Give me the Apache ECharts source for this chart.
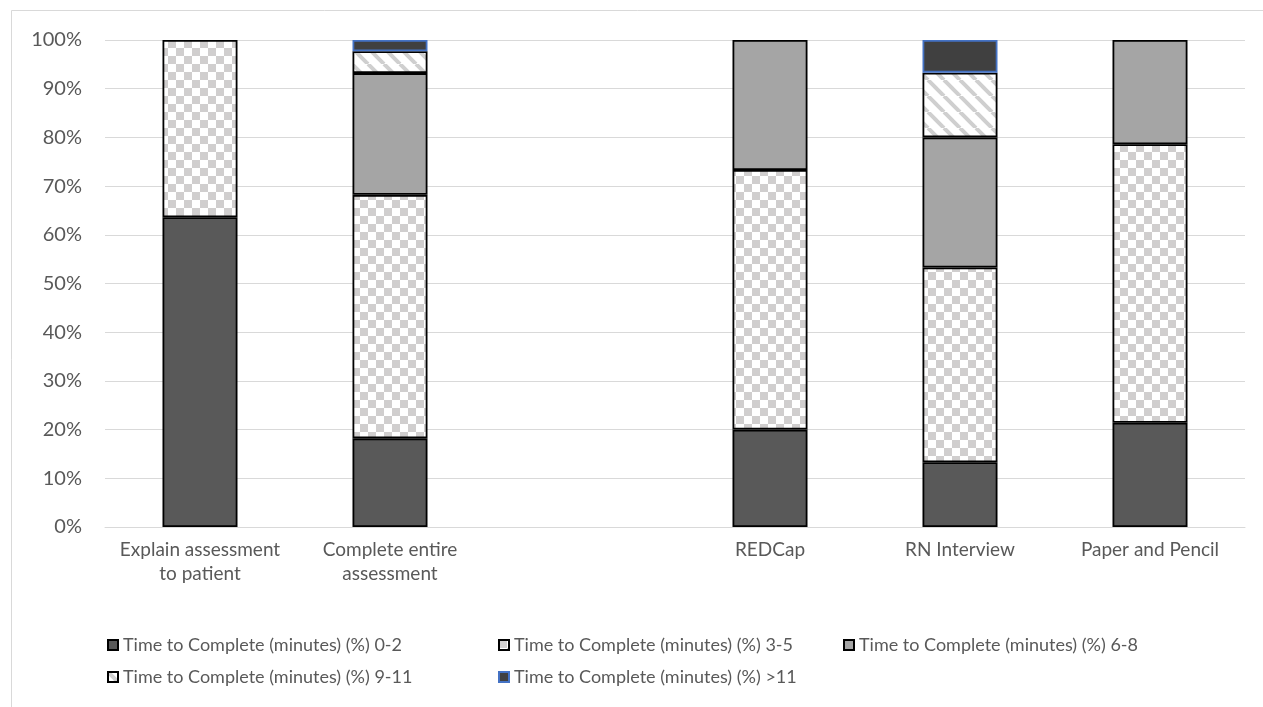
<!DOCTYPE html>
<html>
<head>
<meta charset="utf-8">
<script src="https://cdn.jsdelivr.net/npm/echarts@6/dist/echarts.min.js"></script>
<style>html,body{margin:0;padding:0;background:#fff;}#c{width:1263px;height:707px;}</style>
</head>
<body>
<div id="c"></div>
<script>
const categories = ['Explain assessment\nto patient', 'Complete entire\nassessment', '', 'REDCap', 'RN Interview', 'Paper and Pencil'];
const seriesNames = [
  'Time to Complete (minutes) (%) 0-2',
  'Time to Complete (minutes) (%) 3-5',
  'Time to Complete (minutes) (%) 6-8',
  'Time to Complete (minutes) (%) 9-11',
  'Time to Complete (minutes) (%) >11'
];
const v0_2  = [63.6, 18.2, null, 20.0, 13.3, 21.4];
const v3_5  = [36.4, 50.0, null, 53.3, 40.0, 57.2];
const v6_8  = [null, 25.0, null, 26.7, 26.7, 21.4];
const v9_11 = [null, 4.5,  null, null, 13.3, null];
const v11p  = [null, 2.3,  null, null, 6.7,  null];
const yTicks = [0, 10, 20, 30, 40, 50, 60, 70, 80, 90, 100];

function checker() {
  const c = document.createElement('canvas');
  c.width = 16; c.height = 16;
  const g = c.getContext('2d');
  g.fillStyle = '#ffffff'; g.fillRect(0, 0, 16, 16);
  g.fillStyle = '#d0cece';
  g.fillRect(0, 0, 8, 8); g.fillRect(8, 8, 8, 8);
  return c;
}
function hatch() {
  const s = 16;
  const c = document.createElement('canvas');
  c.width = s; c.height = s;
  const g = c.getContext('2d');
  g.fillStyle = '#ffffff'; g.fillRect(0, 0, s, s);
  g.strokeStyle = '#cfcfcf'; g.lineWidth = 4;
  for (const o of [-s, 0, s]) {
    g.beginPath(); g.moveTo(o, 0); g.lineTo(o + s, s); g.stroke();
  }
  return c;
}
const checkPat = { image: checker(), repeat: 'repeat' };
const hatchPat = { image: hatch(), repeat: 'repeat' };

const dataSets = [v0_2, v3_5, v6_8, v9_11, v11p];
const fills = ['#595959', checkPat, '#a5a5a5', hatchPat, '#404040'];
const borders = ['#000000', '#000000', '#000000', '#000000', '#4472c4'];

const FONT = 'Lato';
const chart = echarts.init(document.getElementById('c'), null, { renderer: 'canvas' });

const legendPos = [[102, 631], [493, 631], [838, 631], [102, 663], [493, 663]];
const legends = seriesNames.map((n, i) => ({
  data: [n],
  left: legendPos[i][0], top: legendPos[i][1],
  icon: 'rect', itemWidth: 10, itemHeight: 10, itemGap: 4,
  selectedMode: false,
  textStyle: { color: '#595959', fontSize: 18, fontFamily: FONT }
}));

chart.setOption({
  animation: false,
  backgroundColor: '#ffffff',
  graphic: [{
    type: 'rect', shape: { x: 11.5, y: 10.5, width: 1300, height: 800 },
    style: { fill: 'none', stroke: '#d9d9d9', lineWidth: 1 }, silent: true
  }],
  grid: { left: 105, right: 18, top: 40, bottom: 180 },
  legend: legends,
  xAxis: {
    type: 'category', data: categories,
    axisLine: { lineStyle: { color: '#d9d9d9', width: 1 } },
    axisTick: { show: false },
    axisLabel: { color: '#595959', fontSize: 19, fontFamily: FONT, lineHeight: 24, margin: 11, interval: 0 }
  },
  yAxis: {
    type: 'value', min: 0, max: 100, interval: 10,
    axisLine: { show: false }, axisTick: { show: false },
    splitLine: { lineStyle: { color: '#d9d9d9', width: 1 } },
    axisLabel: { color: '#595959', fontSize: 20, fontFamily: FONT, margin: 23,
      formatter: v => yTicks.includes(v) ? v + '%' : '' }
  },
  series: seriesNames.map((n, i) => ({
    name: n, type: 'bar', stack: 'total', barWidth: 75,
    data: dataSets[i],
    itemStyle: { color: fills[i], borderColor: borders[i], borderWidth: 1.8 },
    emphasis: { disabled: true }
  }))
});
</script>
</body>
</html>
